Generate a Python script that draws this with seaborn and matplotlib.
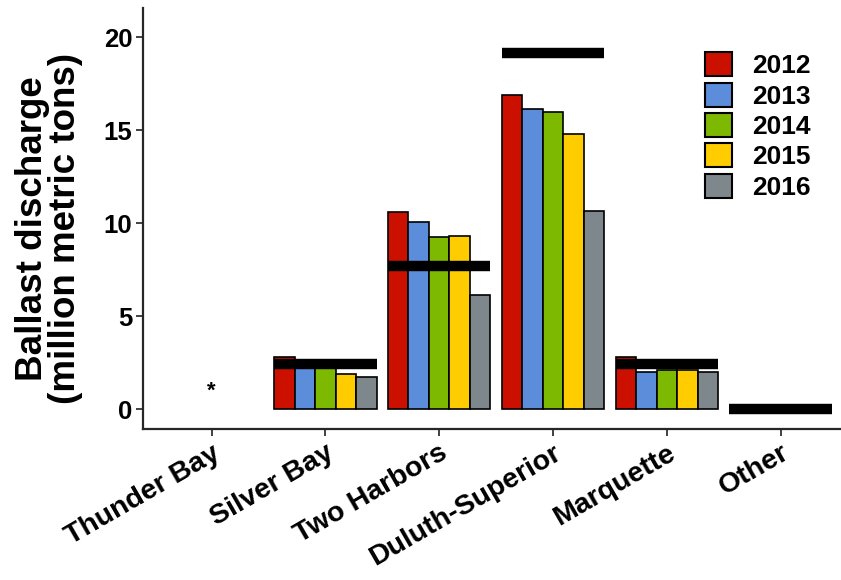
import numpy as np
import pandas as pd
import seaborn as sns
import matplotlib
matplotlib.use('Agg')
import matplotlib.pyplot as plt

# Ports on the x axis
ports = ['Thunder Bay', 'Silver Bay', 'Two Harbors', 'Duluth-Superior', 'Marquette', 'Other']
years = ['2012', '2013', '2014', '2015', '2016']

# Ballast discharge by year (million metric tons)
v2012 = [np.nan, 2.8, 10.6, 16.9, 2.8, np.nan]
v2013 = [np.nan, 2.2, 10.05, 16.15, 2.0, np.nan]
v2014 = [np.nan, 2.2, 9.25, 16.0, 2.1, np.nan]
v2015 = [np.nan, 1.88, 9.3, 14.8, 2.1, np.nan]
v2016 = [np.nan, 1.75, 6.15, 10.65, 2.0, np.nan]

# black reference bars per port
reference = [np.nan, 2.42, 7.7, 19.17, 2.42, 0.0]

colors = ['#CC1000', '#5B8DDB', '#7DB900', '#FFCC00', '#7E878C']

rows = []
for yr, vals in zip(years, [v2012, v2013, v2014, v2015, v2016]):
    for p, v in zip(ports, vals):
        rows.append({'Port': p, 'Year': yr, 'Discharge': v})
df = pd.DataFrame(rows)

sns.set_style('ticks')
plt.rcParams['font.family'] = ['Liberation Sans', 'DejaVu Sans']
plt.rcParams['font.weight'] = 'bold'
for k in ['text.color', 'axes.labelcolor', 'xtick.labelcolor', 'ytick.labelcolor']:
    plt.rcParams[k] = 'black'

fig = plt.figure(figsize=(8.41, 5.80), dpi=100)
ax = fig.add_axes([0.1704, 0.2603, 0.8296, 0.7257])

sns.barplot(data=df, x='Port', y='Discharge', hue='Year', order=ports,
            hue_order=years, palette=colors, width=0.9, errorbar=None,
            edgecolor='black', linewidth=1.2, saturation=1, ax=ax)

# reference levels as thick black horizontal bars
xpos = np.arange(len(ports))
ref = np.array(reference)
ok = ~np.isnan(ref)
ax.hlines(ref[ok], xpos[ok] - 0.45, xpos[ok] + 0.45, colors='black',
          linewidth=7.5, zorder=5)
ax.collections[-1].set_capstyle('butt')

# Thunder Bay has no data
ax.text(0, 1.0, '*', ha='center', va='center', fontsize=16, fontweight='bold')

ax.set_xlim(-0.6, 5.53)
ax.set_ylim(-1.06, 21.58)
ax.set_yticks([0, 5, 10, 15, 20])
ax.set_xlabel('')
ax.set_ylabel('Ballast discharge\n(million metric tons)', fontsize=26.5,
              fontweight='bold', va='center', linespacing=0.92)
ax.yaxis.set_label_coords(-0.135, 0.477)

ax.tick_params(axis='both', width=1.3, length=5, color='#333333', pad=3)
ax.tick_params(axis='y', labelsize=18.5)
ax.tick_params(axis='x', labelsize=20.5)
plt.setp(ax.get_xticklabels(), rotation=30, ha='right', rotation_mode='anchor',
         fontweight='bold')
plt.setp(ax.get_yticklabels(), fontweight='bold')

sns.despine(ax=ax)
for s in ['left', 'bottom']:
    ax.spines[s].set_linewidth(1.6)

sns.move_legend(ax, 'upper left', bbox_to_anchor=(0.805, 0.895), frameon=False,
                title=None, fontsize=19, handlelength=1.03, handleheight=1.03,
                labelspacing=0.16, handletextpad=0.75, borderpad=0, borderaxespad=0)
leg = ax.get_legend()
for h in leg.legend_handles:
    h.set_edgecolor('black')
    h.set_linewidth(1.5)
for t in leg.get_texts():
    t.set_fontweight('bold')

fig.savefig('out.png', dpi=100)
